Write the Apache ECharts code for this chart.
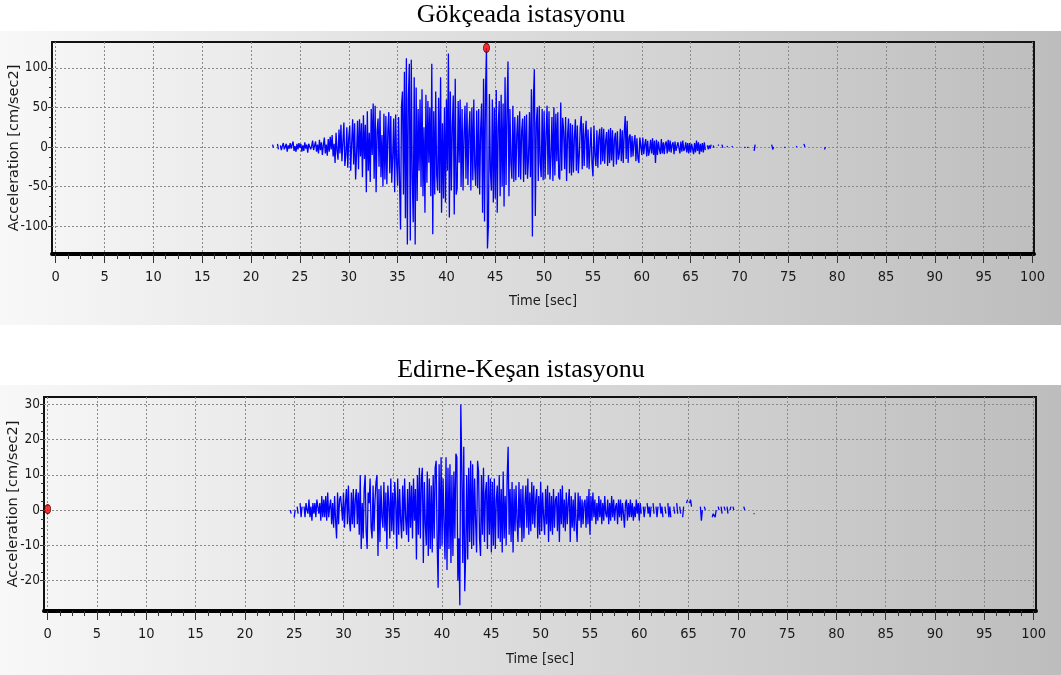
<!DOCTYPE html>
<html>
<head>
<meta charset="utf-8">
<script src="https://cdn.jsdelivr.net/npm/echarts@6/dist/echarts.min.js"></script>
<style>
  html, body { margin: 0; padding: 0; background: #ffffff; }
  #wrap { position: relative; width: 1061px; height: 675px; overflow: hidden; }
  .panel { position: absolute; left: 0; width: 1061px; background: linear-gradient(to right, #f8f8f8, #bdbdbd); }
  #chart { position: absolute; left: 0; top: 0; width: 1061px; height: 675px; }
</style>
</head>
<body>
<div id="wrap">
  <div class="panel" style="top:31px;height:294px"></div>
  <div class="panel" style="top:385px;height:290px"></div>
  <div id="chart"></div>
</div>
<script>
// Station titles
const gokceadaTitle = 'Gökçeada istasyonu';
const kesanTitle = 'Edirne-Keşan istasyonu';

// Gökçeada record: acceleration (cm/sec2) every 0.1 s from 22.0 s; one row per second; null = no trace
const gokceadaStart = 22.0;
const gokceadaStep = 0.1;
const gokceadaAcc = [
  null,null,3,-1,null,null,null,4,-3,null,
  2,-4,1,5,-3,-1,4,-6,2,-2,
  5,-2,3,7,-5,1,-6,4,-3,5,
  -1,4,-6,2,-5,6,-2,3,-7,4,
  6,-3,1,8,-4,-2,7,-6,3,-8,
  9,-4,6,-10,2,12,-8,3,-11,10,
  -6,13,-3,15,-12,4,-20,18,-5,-16,
  22,-8,28,-18,6,31,-24,-10,25,-26,
  12,27,-30,5,35,-22,30,-41,-8,33,
  -28,35,-12,30,-38,40,-15,28,-57,45,
  -30,18,-44,48,-10,55,-40,52,-57,20,
  36,-25,46,-38,15,-50,42,-41,39,-47,
  20,44,-33,39,-45,-12,36,-57,41,-20,
  -49,38,-44,-104,52,70,-60,95,-90,112,
  -123,60,105,-118,110,-40,-95,88,-123,75,
  -68,48,-30,60,-50,73,-62,25,-83,66,
  -45,58,-20,50,-62,105,-110,45,-60,70,
  -35,-55,62,-58,88,-83,30,-65,50,-70,
  60,-30,118,-89,70,-55,25,65,-85,86,
  -60,-52,58,-20,60,-50,48,-55,15,52,
  -40,56,-48,20,45,-55,50,-42,60,-25,
  -49,46,-52,48,-60,22,55,-83,86,-94,
  70,125,-128,-98,67,-30,-55,60,-70,50,
  -65,72,-83,25,58,-62,66,-50,55,-75,
  88,-48,45,108,-62,48,-20,-40,52,-44,
  38,-42,15,40,-38,45,-41,20,36,-44,
  39,-35,41,-40,-15,44,-38,73,-113,60,
  98,-87,30,50,-43,52,-20,-38,48,-42,
  45,-40,15,52,-35,45,-41,-12,38,-43,
  50,-36,42,-18,44,-38,-41,56,-30,37,
  20,-28,38,-43,15,36,-33,30,-36,28,
  -32,12,35,-30,27,-33,-10,25,39,-28,
  30,-24,15,33,-26,22,-28,-30,25,-20,
  -37,27,-10,-24,21,-26,12,23,-22,25,
  -18,23,-21,8,19,-24,22,-20,24,-17,
  21,-25,10,18,-22,20,-16,-8,23,-18,
  21,-20,17,39,-15,33,-20,12,16,-13,
  14,-12,6,15,-18,11,-14,-20,12,13,
  -10,12,-9,3,10,-12,8,-11,-4,9,
  -8,11,-10,8,-20,9,-10,7,-3,-9,
  10,-8,6,-9,4,7,-8,9,-6,8,
  -7,3,6,-9,7,-5,-7,6,5,-8,
  7,-6,8,-5,-2,6,-7,5,-8,5,
  -7,4,6,-9,5,-7,8,-5,6,-9,
  4,-6,5,-7,6,-4,null,2,-3,2,
  -2,3,null,2,-1,null,null,null,2,3,
  null,null,3,-1,null,null,null,1,0,null,
  null,null,1,0,null,null,null,null,null,null,
  null,null,null,null,null,0,-1,null,0,-1,
  null,null,null,null,null,-5,3,null,null,null,
  null,null,null,null,null,null,null,null,null,null,
  null,null,null,3,-3,0,null,null,null,null,
  null,null,null,null,null,null,-1,0,null,null,
  null,null,null,null,null,null,null,null,0,1,
  null,null,null,null,null,null,4,0,null,null,
  null,null,null,null,null,null,null,null,null,null,
  null,null,null,null,null,null,null,-3,0,null
];
// Peak marker [time, acceleration]
const gokceadaMarker = [44.1, 125];

// Edirne-Keşan record: acceleration (cm/sec2) every 0.1 s from 24.0 s; one row per second; null = no trace
const kesanStart = 24.0;
const kesanStep = 0.1;
const kesanAcc = [
  null,null,null,null,null,null,0,-1,null,null,
  -2,0,null,1,-1,null,2,-2,1,null,
  1,-2,2,0,-1,3,-2,1,-3,2,
  -1,2,-2,3,1,-1,2,-3,4,-2,
  3,-2,4,-3,5,-2,1,3,-4,2,
  -5,4,-3,-8,5,-4,3,4,1,-3,
  5,-5,2,6,-4,7,-3,-6,5,-4,
  6,-5,3,6,-4,5,-7,10,-11,2,
  -8,6,10,-6,-11,5,2,9,-5,-8,
  7,-6,3,8,10,-13,6,-9,7,-2,
  -5,8,-6,5,-11,7,2,-8,9,-6,
  5,-7,8,2,-11,9,-7,6,-3,-8,
  7,-6,9,-2,-7,6,-9,8,-5,7,
  -8,9,-3,6,-14,10,-7,12,-8,9,
  12,-15,8,-4,-10,11,-13,9,-11,7,
  -12,10,-8,12,14,-9,-22,13,-11,15,
  -10,9,-4,-14,15,-17,12,-11,13,-15,
  10,-13,11,-8,16,15,-20,-8,-27,30,
  12,-15,18,-23,-12,10,-14,12,-9,14,
  -11,13,-10,9,-3,-12,14,11,-8,-13,
  10,-7,12,-9,5,8,-11,10,-7,9,
  -12,8,-10,9,-11,3,7,-8,10,-9,
  6,-12,11,-8,4,-10,9,18,-7,6,
  -9,8,-12,6,-6,7,-3,-9,8,-5,
  6,-9,7,-8,2,7,-5,9,-7,5,
  -6,8,-4,7,-5,3,6,-8,4,-7,
  8,-6,5,-2,-7,6,-4,7,-9,5,
  -6,4,-7,6,-5,3,4,-6,5,-9,
  6,-4,7,-5,3,-6,5,-4,2,6,
  -9,4,-5,3,-6,5,-4,-9,5,-3,
  4,-5,3,-4,2,3,-5,4,-4,6,
  -7,4,-3,5,-2,3,-4,2,-3,4,
  -2,3,-4,2,-3,4,-1,-2,3,-4,
  2,-3,4,-2,3,-3,1,2,-4,3,
  -2,3,-3,2,-1,-5,2,3,-3,2,
  -2,3,-2,2,-3,1,-2,3,-1,2,
  -3,2,-1,null,1,-2,1,null,2,-1,
  1,-2,1,null,2,-1,null,1,-2,1,
  null,2,-1,1,-2,null,1,-1,null,2,
  -2,1,-2,null,null,1,-1,null,2,-1,
  null,1,-1,null,-2,1,null,null,2,3,
  null,2,3,1,null,null,null,null,null,null,
  null,null,1,-3,0,null,1,0,null,null,
  null,null,null,null,-2,-1,-1,-2,0,null,
  1,0,null,1,-1,null,1,0,null,1,
  -1,null,0,1,null,1,0,null,null,null,
  null,null,null,null,null,null,1,0,null,null,
  null,null,null,null,null,null,-1,-1,null,null
];
// Start marker [time, acceleration]
const kesanMarker = [0, 0.3];

// Axis ticks
const timeTicks = [0,5,10,15,20,25,30,35,40,45,50,55,60,65,70,75,80,85,90,95,100];
const gokceadaAccTicks = [-100,-50,0,50,100];
const kesanAccTicks = [-20,-10,0,10,20,30];

// Minor ticks: four divisions between major ticks
function minorTicks(major) {
  const out = [];
  for (let i = 0; i < major.length - 1; i++) {
    const d = (major[i + 1] - major[i]) / 4;
    for (let k = 1; k < 4; k++) out.push(+(major[i] + k * d).toFixed(3));
  }
  return out;
}

function toPoints(start, step, values) {
  return values.map((v, i) => [+(start + i * step).toFixed(2), v]);
}

const narrow = "'Liberation Sans Narrow','DejaVu Sans Condensed','Arial Narrow',sans-serif";
const labelColor = '#1a1a1a';
const gridLine = { show: true, lineStyle: { color: '#8a8a8a', width: 1, type: [2, 2] } };

function timeAxis(gridIndex, min, max, nameGap) {
  return {
    type: 'value', gridIndex, min, max, position: 'bottom', splitNumber: 20,
    name: 'Time [sec]', nameLocation: 'middle', nameGap, nameMoveOverlap: false,
    nameTextStyle: { fontFamily: narrow, fontSize: 14.5, color: labelColor },
    axisLine: { show: true, onZero: false, lineStyle: { color: '#000', width: 4 } },
    axisTick: { show: true, customValues: timeTicks, length: 9, lineStyle: { color: '#333' } },
    axisLabel: { customValues: timeTicks, margin: 16, fontFamily: narrow, fontSize: 14.5, color: labelColor },
    splitLine: gridLine
  };
}
function timeMinorAxis(gridIndex, min, max) {
  return {
    type: 'value', gridIndex, min, max, position: 'bottom',
    axisLine: { show: false, onZero: false },
    axisTick: { show: true, customValues: minorTicks(timeTicks), length: 5, lineStyle: { color: '#333' } },
    axisLabel: { show: false }, splitLine: { show: false }
  };
}
function accAxis(gridIndex, min, max, ticks, nameGap) {
  return {
    type: 'value', gridIndex, min, max, position: 'left',
    name: 'Acceleration [cm/sec2]', nameLocation: 'middle', nameGap, nameRotate: 90, nameMoveOverlap: false,
    nameTextStyle: { fontFamily: "'DejaVu Sans',sans-serif", fontSize: 14.5, color: labelColor },
    axisLine: { show: false, onZero: false },
    axisTick: { show: true, customValues: ticks, length: 4, lineStyle: { color: '#333' } },
    axisLabel: { customValues: ticks, margin: 4, fontFamily: narrow, fontSize: 13.5, color: labelColor },
    splitLine: gridLine
  };
}
function accMinorAxis(gridIndex, min, max, ticks) {
  return {
    type: 'value', gridIndex, min, max, position: 'left',
    axisLine: { show: false, onZero: false },
    axisTick: { show: true, customValues: minorTicks(ticks), length: 3, lineStyle: { color: '#333' } },
    axisLabel: { show: false }, splitLine: { show: false }
  };
}

const gridFrame = { show: true, borderColor: '#111', borderWidth: 2, backgroundColor: 'transparent', containLabel: false, outerBoundsMode: 'none' };
const traceStyle = { color: '#0000ff', width: 1.3 };

const option = {
  animation: false,
  backgroundColor: 'transparent',
  graphic: [
    { type: 'text', x: 521, y: 2, style: { text: gokceadaTitle, font: '26px "Liberation Serif", serif', fill: '#000', textAlign: 'center', textVerticalAlign: 'top' } },
    { type: 'text', x: 521, y: 357, style: { text: kesanTitle, font: '26px "Liberation Serif", serif', fill: '#000', textAlign: 'center', textVerticalAlign: 'top' } }
  ],
  grid: [
    Object.assign({ left: 52, top: 42, width: 982, height: 212 }, gridFrame),
    Object.assign({ left: 44, top: 397, width: 992, height: 214 }, gridFrame)
  ],
  xAxis: [
    timeAxis(0, -0.38, 100.15, 40),
    timeAxis(1, -0.375, 100.24, 41),
    timeMinorAxis(0, -0.38, 100.15),
    timeMinorAxis(1, -0.375, 100.24)
  ],
  yAxis: [
    accAxis(0, -135, 132.5, gokceadaAccTicks, 30),
    accAxis(1, -28.6, 32.1, kesanAccTicks, 23),
    accMinorAxis(0, -135, 132.5, gokceadaAccTicks),
    accMinorAxis(1, -28.6, 32.1, kesanAccTicks)
  ],
  series: [
    {
      name: gokceadaTitle, type: 'line', xAxisIndex: 0, yAxisIndex: 0,
      data: toPoints(gokceadaStart, gokceadaStep, gokceadaAcc),
      showSymbol: false, symbol: 'none', connectNulls: false,
      lineStyle: traceStyle, z: 3
    },
    {
      type: 'scatter', xAxisIndex: 0, yAxisIndex: 0, data: [gokceadaMarker],
      symbol: 'circle', symbolSize: [6, 9],
      itemStyle: { color: '#ff0000', borderColor: '#3a0000', borderWidth: 1 }, z: 5
    },
    {
      name: kesanTitle, type: 'line', xAxisIndex: 1, yAxisIndex: 1,
      data: toPoints(kesanStart, kesanStep, kesanAcc),
      showSymbol: false, symbol: 'none', connectNulls: false,
      lineStyle: traceStyle, z: 3
    },
    {
      type: 'scatter', xAxisIndex: 1, yAxisIndex: 1, data: [kesanMarker],
      symbol: 'circle', symbolSize: [6, 9],
      itemStyle: { color: '#ff0000', borderColor: '#3a0000', borderWidth: 1 }, z: 5
    }
  ]
};

const chart = echarts.init(document.getElementById('chart'), null, { renderer: 'canvas' });
chart.setOption(option);
</script>
</body>
</html>
